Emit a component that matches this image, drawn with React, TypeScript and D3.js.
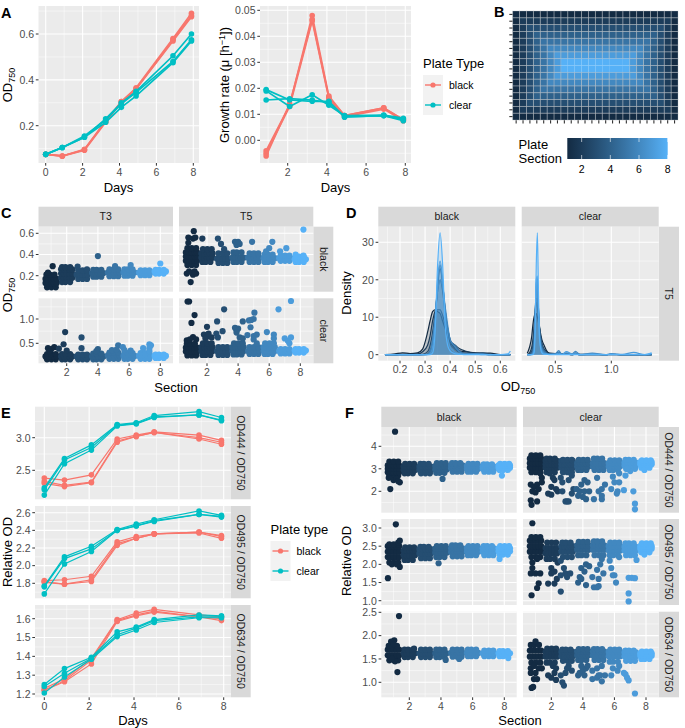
import React from 'react';
import * as d3 from 'd3';

const BLACK = '#F8766D';
const CLEAR = '#00BFC4';
const FONT = '"Liberation Sans", Arial, sans-serif';

const sectionColor = d3.scaleLinear<string>()
    .domain([1, 8])
    .range(['#132B43', '#56B1F7'])
    .interpolate(d3.interpolateLab);

// Panel A
const days = [0, 0.9, 2.1, 3.25, 4.1, 4.9, 6.9, 7.9];
const rateDays = [0.9, 2.1, 3.25, 4.1, 4.9, 6.9, 7.9];
const odBlack = [
    [0.075, 0.068, 0.095, 0.22, 0.305, 0.365, 0.58, 0.69],
    [0.075, 0.068, 0.097, 0.22, 0.30, 0.36, 0.575, 0.68],
    [0.075, 0.067, 0.093, 0.215, 0.305, 0.36, 0.57, 0.675],
];
const odClear = [
    [0.075, 0.105, 0.15, 0.23, 0.30, 0.35, 0.505, 0.60],
    [0.075, 0.105, 0.155, 0.225, 0.295, 0.345, 0.48, 0.575],
    [0.075, 0.105, 0.15, 0.215, 0.28, 0.33, 0.475, 0.57],
];
const rateBlack = [
    [-0.004, 0.0135, 0.048, 0.017, 0.0095, 0.0125, 0.008],
    [-0.005, 0.013, 0.046, 0.016, 0.009, 0.012, 0.0075],
    [-0.006, 0.014, 0.0465, 0.0165, 0.0095, 0.0125, 0.0078],
];
const rateClear = [
    [0.0155, 0.016, 0.0155, 0.0145, 0.009, 0.0095, 0.008],
    [0.019, 0.013, 0.0175, 0.0135, 0.0095, 0.0097, 0.0085],
    [0.0195, 0.0155, 0.015, 0.015, 0.009, 0.0095, 0.0075],
];

// Panel B, section of every well
const plateRows = [
    '111111111111111111111111',
    '122222222222222222222221',
    '123333333333333333333321',
    '123444444444444444444321',
    '123455555555555555554321',
    '123456666666666666654321',
    '123456777777777777654321',
    '123456788888888887654321',
    '123456788888888887654321',
    '123456777777777777654321',
    '123456666666666666654321',
    '123455555555555555554321',
    '123444444444444444444321',
    '123333333333333333333321',
    '122222222222222222222221',
    '111111111111111111111111',
];

// Panels C and F: y values of the dense part for sections 1 to 8, and the stray points as [x, y]
const swarmOffsets = [-0.36, -0.18, 0, 0.18, 0.36];
const swarmEdgeOffsets = [
    [-0.26, 0.02, 0.3],
    [-0.3, -0.08, 0.22],
];

const cT3BlackBands = [
    [0.09, 0.13, 0.17, 0.21], [0.14, 0.18, 0.22, 0.26, 0.28], [0.17, 0.21, 0.25], [0.19, 0.225, 0.255],
    [0.195, 0.23, 0.26], [0.2, 0.23, 0.26], [0.205, 0.23, 0.25], [0.22, 0.24, 0.255],
];
const cT3BlackStray = [[1.1, 0.29], [4, 0.385], [6.1, 0.3], [5.1, 0.29], [8, 0.315], [2.7, 0.285], [0.8, 0.23], [3.3, 0.26]];
const cT5BlackBands = [
    [0.3, 0.34, 0.38, 0.42, 0.46], [0.33, 0.37, 0.41, 0.45], [0.32, 0.36, 0.41], [0.33, 0.37, 0.42],
    [0.33, 0.37, 0.41], [0.33, 0.365, 0.4], [0.34, 0.365, 0.39], [0.33, 0.355, 0.38],
];
const cT5BlackStray = [
    [0.8, 0.56], [0.8, 0.51], [1.15, 0.62], [1.1, 0.55], [1.25, 0.56], [1.7, 0.55], [0.7, 0.22], [1.1, 0.21],
    [1.3, 0.22], [0.95, 0.14], [1.2, 0.24], [0.85, 0.24], [2.7, 0.55], [2.9, 0.5], [3.1, 0.45], [3.8, 0.52],
    [4, 0.52], [3.9, 0.49], [4.1, 0.5], [4.9, 0.52], [6.2, 0.52], [5.8, 0.43], [6, 0.46], [7.1, 0.46],
    [6.7, 0.43], [8.2, 0.635], [7.7, 0.4], [8.2, 0.39],
];
const cT3ClearBands = [
    [0.17, 0.23, 0.28], [0.17, 0.23, 0.28], [0.17, 0.23, 0.27], [0.17, 0.23, 0.29],
    [0.18, 0.25, 0.31], [0.18, 0.24, 0.3], [0.18, 0.24, 0.3], [0.2, 0.24, 0.27],
];
const cT3ClearStray = [
    [0.8, 0.4], [1.2, 0.42], [1.5, 0.39], [1, 0.38], [1.9, 0.73], [1.8, 0.48], [2.95, 0.62], [2.95, 0.4],
    [2, 0.35], [0.9, 0.33], [4, 0.38], [3.9, 0.34], [5.3, 0.46], [5.6, 0.42], [4.9, 0.36], [5.2, 0.37],
    [6.1, 0.35], [5.7, 0.36], [7.3, 0.48], [7.4, 0.46], [6.9, 0.4], [7.3, 0.4], [7.3, 0.34],
];
const cT5ClearBands = [
    [0.25, 0.33, 0.41, 0.49], [0.26, 0.34, 0.42, 0.5], [0.26, 0.34, 0.42], [0.27, 0.34, 0.42, 0.5],
    [0.28, 0.34, 0.42], [0.28, 0.34, 0.42, 0.5], [0.29, 0.34, 0.38], [0.31, 0.35, 0.38],
];
const cT5ClearStray = [
    [0.75, 1.36], [0.85, 1.36], [1.2, 1.08], [1, 0.92], [0.7, 0.56], [1.1, 0.63], [0.9, 0.58], [1.3, 0.58],
    [2, 0.84], [1.8, 0.68], [2, 0.64], [2.3, 0.62], [1.9, 0.6], [2.1, 0.7], [3.1, 1.2], [2.65, 0.95],
    [3, 0.75], [2.7, 0.62], [2.6, 0.7], [3.8, 0.82], [4, 0.8], [3.9, 0.77], [3.9, 0.72], [4.3, 0.95],
    [4.1, 0.62], [4.3, 0.6], [5.05, 1.13], [5, 1], [4.85, 0.98], [4.7, 0.97], [4.8, 0.83], [4.6, 0.67],
    [5, 0.65], [5.2, 0.68], [5, 0.58], [5.2, 0.5], [5.85, 0.73], [6.3, 0.68], [6.3, 0.6], [6.6, 1.2],
    [7.4, 1.37], [7, 0.6], [7.2, 0.55], [7.4, 0.62], [7.3, 0.5],
];

const f444BlackBands = [
    [2.7, 2.85, 3, 3.15, 3.32], [2.8, 2.95, 3.1, 3.22], [2.8, 2.95, 3.1, 3.22], [2.82, 2.97, 3.12, 3.25],
    [2.87, 3.02, 3.15, 3.25], [2.87, 3, 3.12, 3.22], [2.87, 3, 3.1, 3.2], [2.95, 3.05, 3.15, 3.22],
];
const f444BlackStray = [
    [1.1, 4.65], [0.8, 2.1], [1.4, 2.4], [0.7, 2.6], [1, 2.5], [1.2, 2.55], [1.3, 2.45], [4.1, 2.55], [7.85, 2.7],
];
const f444ClearBands = [
    [2.85, 3.05, 3.25, 3.45, 3.6], [2.85, 3.05, 3.2, 3.35, 3.45], [2.85, 3.05, 3.2, 3.35, 3.4], [2.95, 3.1, 3.25, 3.4],
    [2.95, 3.1, 3.25, 3.45], [2.95, 3.1, 3.25, 3.38], [3, 3.15, 3.28, 3.4], [3.05, 3.2, 3.3, 3.38],
];
const f444ClearStray = [
    [0.7, 2.3], [0.9, 2.2], [1.1, 2.3], [0.8, 2], [1, 1.95], [1.2, 2.1], [0.7, 1.6], [0.75, 1.4], [1.1, 1.55],
    [1.4, 2.6], [1.3, 2.8], [1.4, 2.4], [1.9, 2.8], [2.1, 2.6], [2.2, 2.5], [2, 2.2], [2.3, 2.1], [1.8, 1.9],
    [2, 1.85], [2.4, 2], [2.7, 2], [2.6, 2.6], [2.7, 2.4], [3, 1.55], [2.9, 1.55], [3.1, 1.55], [3.3, 2.7],
    [3.1, 2.5], [3.4, 2.1], [3.7, 1.8], [3.3, 1.9], [3.6, 2.1], [3.9, 2.3], [4.1, 2.5], [4.3, 2.4], [3.8, 2],
    [4.1, 2], [4.2, 1.65], [4.4, 2], [4, 1.75], [4.7, 1.65], [5.2, 1.65], [5.2, 2.1], [5, 2], [5.4, 2.3],
    [5.2, 1.8], [4.9, 2.6], [5.9, 2.65], [6.3, 2.4], [6, 2.4], [5.8, 2.1], [6.2, 2], [6.6, 2.05], [6.15, 1.9],
    [6.7, 2.7], [6.3, 2.8], [7.2, 2], [7.3, 1.45], [7.3, 1.2], [7, 2.9], [6.8, 3], [7.9, 2.95],
];
const f495BlackBands = [
    [2.05, 2.2, 2.35, 2.5, 2.55], [2.12, 2.25, 2.38, 2.47], [2.17, 2.3, 2.42, 2.48], [2.2, 2.32, 2.43, 2.5],
    [2.22, 2.34, 2.44, 2.52], [2.25, 2.35, 2.45, 2.5], [2.25, 2.35, 2.44, 2.5], [2.27, 2.36, 2.44, 2.5],
];
const f495BlackStray = [
    [1.15, 3.1], [0.65, 1.62], [1.3, 2.6], [1.4, 2.65], [0.9, 2], [1.2, 2], [1.4, 1.93], [3.85, 2.03], [7.7, 2.15],
];
const f495ClearBands = [
    [2.2, 2.35, 2.5, 2.65, 2.75], [2.15, 2.3, 2.45, 2.6], [2.2, 2.35, 2.5, 2.6], [2.25, 2.4, 2.52, 2.62],
    [2.25, 2.4, 2.52, 2.63], [2.25, 2.38, 2.5, 2.6], [2.25, 2.38, 2.48, 2.58], [2.33, 2.43, 2.5, 2.58],
];
const f495ClearStray = [
    [0.8, 3.13], [0.75, 1.15], [1.1, 1.35], [1.2, 1.48], [0.7, 1.75], [1, 1.75], [1.3, 1.75], [0.8, 1.9],
    [1.1, 2.15], [0.8, 2.05], [1.8, 1.47], [2.2, 1.47], [2, 1.9], [2.2, 1.8], [2, 1.75], [2.35, 1.6],
    [2.6, 1.25], [2.6, 1.7], [2.4, 2.05], [2.6, 2.1], [3, 1.65], [2.9, 1.75], [3.2, 1.75], [2.8, 1.9],
    [3.7, 1.5], [3.8, 1.65], [3.9, 1.9], [4.1, 1.8], [4.2, 2], [3.9, 1.6], [4.4, 1.95], [4.2, 1.43],
    [4.6, 1.65], [4.7, 1.37], [4.9, 1.37], [5, 1.6], [4.9, 1.85], [5.3, 1.75], [5.1, 2], [5.2, 2.15], [5, 1.4],
    [5.7, 2.1], [5.8, 1.9], [5.9, 1.7], [6.1, 1.5], [6, 1.7], [6.3, 2.2], [6.9, 1.63], [7.1, 1.63],
    [7.3, 1.62], [6.9, 1.2], [6.9, 0.98], [7.4, 2.12], [7.9, 2.27],
];
const f634BlackBands = [
    [1.47, 1.58, 1.7, 1.78], [1.54, 1.62, 1.7], [1.54, 1.62, 1.7], [1.54, 1.62, 1.7],
    [1.55, 1.63, 1.7], [1.56, 1.63, 1.7], [1.56, 1.62, 1.68], [1.56, 1.62, 1.67],
];
const f634BlackStray = [
    [1.35, 2.42], [1.05, 1.9], [0.85, 1.87], [1, 1.82], [1.25, 1.22], [1.1, 1.45], [0.9, 1.5], [2.3, 1.72],
    [4.3, 1.48], [5.15, 1.5], [8.25, 1.52],
];
const f634ClearBands = [
    [1.42, 1.55, 1.68, 1.8], [1.42, 1.55, 1.65, 1.72], [1.46, 1.56, 1.65, 1.7], [1.48, 1.58, 1.66, 1.71],
    [1.48, 1.58, 1.66, 1.71], [1.44, 1.56, 1.65, 1.7], [1.46, 1.56, 1.64, 1.68], [1.5, 1.57, 1.62, 1.66],
];
const f634ClearStray = [
    [1, 1.88], [0.75, 0.88], [0.85, 0.9], [0.9, 1.07], [1.1, 1.07], [0.7, 1.3], [1, 1.2], [1.2, 1.3], [1.4, 1.3],
    [0.7, 1.2], [0.9, 1.35], [2.1, 1.35], [2.2, 1.2], [2, 1.1], [1.8, 1.15], [2.3, 1.05], [2.6, 1.15],
    [2.8, 0.93], [2.7, 1], [2.3, 1.3], [2.9, 1.2], [3.1, 1.35], [3.3, 1.25], [3, 1.3], [3.7, 1.15], [3.8, 1.2],
    [4, 1.25], [4.2, 1.3], [4.1, 1.15], [4.3, 1.35], [4.6, 1.25], [3.9, 1.35], [4.6, 1.07], [4.9, 1.1],
    [5.2, 1.02], [5.1, 1.15], [5.4, 1.15], [5, 1.15], [5.2, 1.35], [4.9, 1.3], [5.8, 1.15], [6.3, 1.35],
    [5.9, 1.3], [6.2, 1.25], [6.7, 1.17], [6.9, 1.04], [6.6, 1.2], [7.3, 0.76], [6.8, 1.1],
];

// Panel D, density per section on a hand picked grid of OD values
const densBlackX = [0.14, 0.18, 0.21, 0.24, 0.27, 0.29, 0.31, 0.32, 0.33, 0.34, 0.35, 0.36, 0.37, 0.38, 0.39, 0.40, 0.41, 0.42, 0.44, 0.46, 0.50, 0.53, 0.56, 0.60, 0.63, 0.64];
const densBlack = [
    [0, 0.2, 0.5, 0.3, 0.5, 1.5, 6, 9, 11.5, 12, 11.5, 11, 9, 7, 5, 3.5, 2.5, 2, 1, 0.8, 0.5, 0.4, 0.4, 0, 0, 0],
    [0, 0, 0.1, 0.1, 0.2, 0.8, 2.5, 5, 9, 11.5, 12, 12, 10.5, 8, 5, 3.5, 3, 2.5, 1.5, 1, 0.4, 0.3, 0.1, 0, 0, 0],
    [0, 0, 0, 0, 0, 0.1, 0.8, 2.5, 6, 11, 17, 20, 17, 11, 7, 4, 2.5, 1.5, 0.6, 0.4, 0.3, 0.5, 0.1, 0, 0, 0],
    [0, 0, 0, 0, 0, 0, 0.2, 1, 3.5, 9, 18, 23, 19, 12, 6, 3, 2, 1.5, 0.8, 0.3, 0.2, 0.2, 0, 0, 0, 0],
    [0, 0, 0, 0, 0, 0, 0.1, 0.6, 3, 9, 19, 24, 19, 12, 7, 4, 3, 2.5, 0.8, 0.2, 0.2, 0.1, 0, 0, 0, 0],
    [0, 0, 0, 0, 0, 0, 0.1, 0.8, 4, 10, 17, 20, 18, 13, 8, 4, 2.8, 2, 0.6, 0.2, 0.3, 0.2, 0, 0, 0, 0],
    [0, 0, 0, 0, 0, 0, 0, 0.3, 2, 8, 20, 25, 20, 11, 5, 2, 1.2, 0.6, 0.2, 0.1, 0.1, 0, 0, 0, 0, 0],
    [0, 0, 0, 0, 0, 0, 0, 0, 0.5, 6, 24, 32.5, 24, 8, 2.5, 1, 0.5, 0.2, 0.1, 0, 0, 0, 0, 0, 0.2, 1],
];
const densClearX = [0.25, 0.27, 0.29, 0.30, 0.31, 0.32, 0.33, 0.34, 0.35, 0.36, 0.38, 0.40, 0.42, 0.45, 0.50, 0.53, 0.56, 0.60, 0.65, 0.68, 0.72, 0.83, 0.95, 1.0, 1.1, 1.2, 1.3, 1.36];
const densClear = [
    [0.4, 2, 5, 8, 10, 11, 11, 10, 8.5, 7, 4, 2.5, 1.2, 0.4, 0.3, 0.6, 0.2, 0.3, 0.1, 0.3, 0.1, 0.1, 0, 0.1, 0, 0, 0, 0],
    [0, 0.5, 2, 4, 7, 11, 14, 13, 10, 7, 3, 1.5, 0.8, 0.2, 0.2, 0.4, 0.1, 0.2, 0, 0.1, 0, 0, 0, 0, 0, 0, 0, 0],
    [0, 0.2, 1, 2.5, 6, 11, 15, 15, 11, 7, 3, 1.2, 0.5, 0.2, 0.1, 0.2, 0.1, 0.1, 0, 0.2, 0, 0, 0, 0.1, 0, 0, 0, 0],
    [0, 0, 0.5, 1.5, 4, 11, 17, 18, 12, 7, 2.5, 1.2, 0.5, 0.1, 0.1, 0.2, 0.1, 0.3, 0, 0.1, 0, 0.1, 0, 0, 0, 0, 0, 0],
    [0, 0, 0.2, 1, 3, 10, 18, 19, 12, 6, 2, 1, 0.4, 0.1, 0.2, 0.6, 0.1, 0.2, 0.1, 0.5, 0, 0, 0, 0.2, 0, 0, 0, 0],
    [0, 0, 0.1, 0.5, 2, 9, 19, 20, 12, 5, 1.5, 0.6, 0.3, 0.1, 0.2, 1.1, 0.1, 0.5, 0.2, 0.9, 0.1, 0.4, 0, 0.1, 0, 0, 0, 0],
    [0, 0, 0, 0.2, 1, 8, 20, 21, 11, 4, 1, 0.3, 0.2, 0.1, 0.1, 0.4, 0.1, 0.8, 0.2, 0.3, 0, 0.2, 0, 0.2, 0.1, 0.6, 0, 0.4],
    [0, 0, 0, 0, 0.5, 6, 24, 32.5, 16, 4, 0.5, 0.1, 0.1, 0, 0, 0, 0, 0, 0, 0, 0, 0, 0, 0, 0, 0, 0, 0.5],
];

// Panel E
const od444Black = [
    [2.38, 2.35, 2.43, 2.98, 3.04, 3.09, 3.04, 2.96],
    [2.33, 2.27, 2.32, 2.95, 3.02, 3.08, 3.0, 2.93],
    [2.3, 2.25, 2.31, 2.93, 3.02, 3.08, 2.98, 2.9],
];
const od444Clear = [
    [2.23, 2.68, 2.89, 3.2, 3.23, 3.34, 3.4, 3.31],
    [2.2, 2.66, 2.85, 3.19, 3.22, 3.32, 3.35, 3.27],
    [2.12, 2.6, 2.81, 3.18, 3.21, 3.31, 3.35, 3.26],
];
const od495Black = [
    [1.83, 1.84, 1.88, 2.27, 2.33, 2.36, 2.38, 2.34],
    [1.82, 1.79, 1.84, 2.25, 2.31, 2.36, 2.38, 2.33],
    [1.81, 1.79, 1.82, 2.23, 2.31, 2.36, 2.37, 2.31],
];
const od495Clear = [
    [1.77, 2.1, 2.22, 2.41, 2.47, 2.52, 2.62, 2.57],
    [1.76, 2.08, 2.19, 2.4, 2.45, 2.51, 2.58, 2.56],
    [1.68, 2.02, 2.16, 2.4, 2.45, 2.5, 2.58, 2.55],
];
const od634Black = [
    [1.23, 1.28, 1.39, 1.595, 1.63, 1.65, 1.62, 1.61],
    [1.22, 1.27, 1.38, 1.59, 1.62, 1.64, 1.61, 1.6],
    [1.22, 1.265, 1.36, 1.585, 1.615, 1.635, 1.61, 1.59],
];
const od634Clear = [
    [1.25, 1.335, 1.395, 1.53, 1.555, 1.595, 1.62, 1.615],
    [1.24, 1.31, 1.39, 1.515, 1.55, 1.59, 1.61, 1.61],
    [1.205, 1.29, 1.385, 1.505, 1.54, 1.58, 1.605, 1.605],
];

const evens = [0, 2, 4, 6, 8];
const odds = [1, 3, 5, 7];
const sectionTicks = [2, 4, 6, 8];
const sectionMinor = [1, 3, 5, 7];

type Scale = d3.ScaleLinear<number, number>;

function Panel(props: {
    sx: Scale, sy: Scale, xMajor: number[], xMinor: number[], yMajor: number[], yMinor: number[],
    box: number[], showX?: boolean, showY?: boolean, fmtY?: (v: number) => string, fmtX?: (v: number) => string,
    children?: React.ReactNode,
}) {
    const { sx, sy, xMajor, xMinor, yMajor, yMinor, box, showX, showY, children } = props;
    const [x0, x1, y0, y1] = box;
    const fmtY = props.fmtY || d3.format('.1f');
    const fmtX = props.fmtX || (v => String(v));
    return (
        <g>
            <rect x={x0} y={y0} width={x1 - x0} height={y1 - y0} fill="#ebebeb" />
            {xMinor.map(v => <line key={'a' + v} x1={sx(v)} x2={sx(v)} y1={y0} y2={y1} stroke="#fff" strokeWidth={0.5} />)}
            {yMinor.map(v => <line key={'b' + v} x1={x0} x2={x1} y1={sy(v)} y2={sy(v)} stroke="#fff" strokeWidth={0.5} />)}
            {xMajor.map(v => <line key={'c' + v} x1={sx(v)} x2={sx(v)} y1={y0} y2={y1} stroke="#fff" strokeWidth={1.1} />)}
            {yMajor.map(v => <line key={'d' + v} x1={x0} x2={x1} y1={sy(v)} y2={sy(v)} stroke="#fff" strokeWidth={1.1} />)}
            {children}
            {showX && xMajor.map(v => (
                <g key={'e' + v}>
                    <line x1={sx(v)} x2={sx(v)} y1={y1} y2={y1 + 2.7} stroke="#333" strokeWidth={1} />
                    <text x={sx(v)} y={y1 + 12.5} textAnchor="middle" fontSize={10.5} fill="#4d4d4d">{fmtX(v)}</text>
                </g>
            ))}
            {showY && yMajor.map(v => (
                <g key={'f' + v}>
                    <line x1={x0 - 2.7} x2={x0} y1={sy(v)} y2={sy(v)} stroke="#333" strokeWidth={1} />
                    <text x={x0 - 4.5} y={sy(v) + 3.8} textAnchor="end" fontSize={10.5} fill="#4d4d4d">{fmtY(v)}</text>
                </g>
            ))}
        </g>
    );
}

function Replicates(props: { xs: number[], rows: number[][], color: string, sx: Scale, sy: Scale, lw: number, r: number }) {
    const { xs, rows, color, sx, sy, lw, r } = props;
    const line = d3.line<number>().x((_, i) => sx(xs[i])).y(d => sy(d));
    return (
        <g>
            {rows.map((row, i) => (
                <g key={i}>
                    <path d={line(row) || ''} fill="none" stroke={color} strokeWidth={lw} />
                    {row.map((d, j) => <circle key={j} cx={sx(xs[j])} cy={sy(d)} r={r} fill={color} />)}
                </g>
            ))}
        </g>
    );
}

function Swarm(props: { bands: number[][], stray: number[][], sx: Scale, sy: Scale, r: number }) {
    const { bands, stray, sx, sy, r } = props;
    const pts: { x: number, y: number, s: number }[] = [];
    bands.forEach((ys, i) => {
        const s = i + 1;
        ys.forEach((y, k) => {
            // the outer rows are thinner so the blob gets a rounded, lumpy outline
            const edge = k === 0 || k === ys.length - 1;
            const offsets = edge ? swarmEdgeOffsets[(i + k) % 2] : swarmOffsets;
            offsets.forEach(o => pts.push({ x: s + o, y, s }));
        });
    });
    stray.forEach(([x, y]) => pts.push({ x, y, s: Math.max(1, Math.min(8, Math.round(x))) }));
    pts.sort((a, b) => a.s - b.s);
    return (
        <g>
            {pts.map((p, i) => <circle key={i} cx={sx(p.x)} cy={sy(p.y)} r={r} fill={sectionColor(p.s)} />)}
        </g>
    );
}

function Density(props: { xs: number[], rows: number[][], sx: Scale, sy: Scale }) {
    const { xs, rows, sx, sy } = props;
    const area = d3.area<number>().x((_, i) => sx(xs[i])).y0(sy(0)).y1(d => sy(d)).curve(d3.curveMonotoneX);
    const line = d3.line<number>().x((_, i) => sx(xs[i])).y(d => sy(d)).curve(d3.curveMonotoneX);
    return (
        <g>
            {rows.map((row, i) => (
                <g key={i}>
                    <path d={area(row) || ''} fill={sectionColor(i + 1)} fillOpacity={0.2} />
                    <path d={line(row) || ''} fill="none" stroke={sectionColor(i + 1)} strokeWidth={1.2} />
                </g>
            ))}
        </g>
    );
}

function StripTop(props: { x0: number, x1: number, y0: number, y1: number, label: string }) {
    const { x0, x1, y0, y1, label } = props;
    return (
        <g>
            <rect x={x0} y={y0} width={x1 - x0} height={y1 - y0} fill="#d9d9d9" />
            <text x={(x0 + x1) / 2} y={(y0 + y1) / 2 + 3.7} textAnchor="middle" fontSize={10.5} fill="#1a1a1a">{label}</text>
        </g>
    );
}

function StripRight(props: { x0: number, x1: number, y0: number, y1: number, label: string }) {
    const { x0, x1, y0, y1, label } = props;
    const cx = (x0 + x1) / 2;
    const cy = (y0 + y1) / 2;
    return (
        <g>
            <rect x={x0} y={y0} width={x1 - x0} height={y1 - y0} fill="#d9d9d9" />
            <text transform={`translate(${cx - 3.7},${cy}) rotate(90)`} textAnchor="middle" fontSize={10.5} fill="#1a1a1a">{label}</text>
        </g>
    );
}

function Legend(props: { x: number, titleY: number, keyY: number, title: string }) {
    const { x, titleY, keyY, title } = props;
    const keys = [['black', BLACK], ['clear', CLEAR]];
    return (
        <g>
            <text x={x} y={titleY} fontSize={13} fill="#000">{title}</text>
            {keys.map(([name, color], i) => (
                <g key={name} transform={`translate(${x},${keyY + i * 20})`}>
                    <rect width={20} height={20} fill="#f2f2f2" />
                    <line x1={2} x2={18} y1={10} y2={10} stroke={color} strokeWidth={1.4} />
                    <circle cx={10} cy={10} r={2.6} fill={color} />
                    <text x={26} y={14} fontSize={10.5} fill="#000">{name}</text>
                </g>
            ))}
        </g>
    );
}

function Title(props: { x: number, y: number, rotate?: boolean, children: React.ReactNode }) {
    const { x, y, rotate, children } = props;
    return (
        <text transform={`translate(${x},${y})${rotate ? ' rotate(-90)' : ''}`} textAnchor="middle" fontSize={13} fill="#000">
            {children}
        </text>
    );
}

function Od750() {
    return (
        <>
            OD<tspan fontSize={9} dy={2.5}>750</tspan>
        </>
    );
}

const linear = (d: number[], r: number[]) => d3.scaleLinear().domain(d).range(r);

function PlateHeatmap() {
    const cols = d3.range(plateRows[0].length);
    const rows = d3.range(plateRows.length);
    const bx = d3.scaleBand<number>().domain(cols).range([512.7, 678]);
    const by = d3.scaleBand<number>().domain(rows).range([11, 120]);
    const bar = linear([1, 8], [567.3, 667.7]);
    return (
        <g>
            <defs>
                <linearGradient id="sectionBar">
                    {d3.range(1, 9).map(s => <stop key={s} offset={(s - 1) / 7} stopColor={sectionColor(s)} />)}
                </linearGradient>
            </defs>
            {rows.map(r => cols.map(c => (
                <rect key={r + '-' + c} x={bx(c)} y={by(r)} width={bx.bandwidth()} height={by.bandwidth()}
                    fill={sectionColor(+plateRows[r][c])} />
            )))}
            {/* grid over the tiles, which is not visible against the lightest section */}
            {rows.map(r => cols.map(c => (
                <rect key={r + '/' + c} x={bx(c)} y={by(r)} width={bx.bandwidth()} height={by.bandwidth()}
                    fill="none" stroke="#b8bec4" strokeOpacity={plateRows[r][c] === '8' ? 0 : 0.4} strokeWidth={0.8} />
            )))}
            {rows.map(r => <line key={r} x1={509.3} x2={512.5} y1={(by(r) || 0) + by.bandwidth() / 2} y2={(by(r) || 0) + by.bandwidth() / 2} stroke="#333" strokeWidth={1.1} />)}
            {cols.map(c => <line key={c} y1={120.3} y2={123.5} x1={(bx(c) || 0) + bx.bandwidth() / 2} x2={(bx(c) || 0) + bx.bandwidth() / 2} stroke="#333" strokeWidth={1.1} />)}
            <rect x={567.3} y={138} width={100.4} height={21} fill="url(#sectionBar)" />
            {sectionTicks.map(v => (
                <g key={v}>
                    <line x1={bar(v)} x2={bar(v)} y1={155} y2={159} stroke="#fff" strokeWidth={0.6} />
                    <line x1={bar(v)} x2={bar(v)} y1={138} y2={142} stroke="#fff" strokeWidth={0.6} />
                    <text x={bar(v)} y={173} textAnchor="middle" fontSize={10.5} fill="#000">{v}</text>
                </g>
            ))}
            <text x={518.5} y={149} fontSize={13} fill="#000">Plate</text>
            <text x={518.5} y={163} fontSize={13} fill="#000">Section</text>
        </g>
    );
}

export default function App() {
    // panel A
    const ax = linear([0, 8], [45.7, 193.3]);
    const ay = linear([0.2, 0.6], [125.7, 34]);
    const gx = linear([2, 8], [287.7, 405.3]);
    const gy = linear([0, 0.05], [140.3, 10.3]);

    // panel C
    const cxL = linear([2, 8], [66.7, 160.3]);
    const cxR = linear([2, 8], [207, 300.3]);
    const cyTop = linear([0.2, 0.6], [275.7, 233.3]);
    const cyBot = linear([0.5, 1], [343.3, 319]);

    // panel D
    const dxL = linear([0.2, 0.6], [400, 500.3]);
    const dxR = linear([0.5, 1], [555.3, 611.3]);
    const dy = linear([0, 30], [354.7, 242.3]);

    // panel E
    const ex = linear([0, 8], [44.3, 223.7]);
    const ey1 = linear([2.5, 3], [470.3, 437.7]);
    const ey2 = linear([1.8, 2.6], [583.3, 512.7]);
    const ey3 = linear([1.2, 1.6], [694, 618.7]);

    // panel F
    const fxL = linear([2, 8], [409.3, 504.3]);
    const fxR = linear([2, 8], [551.3, 646]);
    const fy1 = linear([2, 4], [491.3, 446.3]);
    const fy2 = linear([1, 3], [600.7, 528]);
    const fy3 = linear([1, 2.5], [682.3, 612.3]);

    const boxC = { top: [226.7, 291.7], bot: [298.3, 363.3], l: [38.5, 173], r: [179, 313.3] };
    const boxE = { x: [35, 231], rows: [[406.7, 499.3], [506, 598.3], [605, 697.3]] };
    const boxF = { l: [381.3, 516.7], r: [523, 658.7], rows: [[427, 512.7], [519, 605], [611.7, 697.3]] };

    const f1yMaj = [2, 3, 4];
    const f1yMin = [1.5, 2.5, 3.5, 4.5];
    const fmtInt = (v: number) => String(v);

    return (
        <svg width={685} height={728} style={{ position: 'absolute', left: 0, top: 0 }} fontFamily={FONT}>
            <rect width={685} height={728} fill="#fff" />

            {/* A */}
            <Panel sx={ax} sy={ay} box={[38.5, 199, 6, 163]} xMajor={evens} xMinor={odds}
                yMajor={[0.2, 0.4, 0.6]} yMinor={[0.1, 0.3, 0.5, 0.7]} showX showY>
                <Replicates xs={days} rows={odBlack} color={BLACK} sx={ax} sy={ay} lw={1.7} r={2.8} />
                <Replicates xs={days} rows={odClear} color={CLEAR} sx={ax} sy={ay} lw={1.7} r={2.8} />
            </Panel>
            <Title x={118.5} y={192}>Days</Title>
            <Title x={12} y={85} rotate><Od750 /></Title>

            <Panel sx={gx} sy={gy} box={[260, 411, 6, 163]} xMajor={sectionTicks} xMinor={[1, 3, 5, 7]}
                yMajor={[0, 0.01, 0.02, 0.03, 0.04, 0.05]} yMinor={[-0.005, 0.005, 0.015, 0.025, 0.035, 0.045]}
                fmtY={d3.format('.2f')} showX showY>
                <Replicates xs={rateDays} rows={rateBlack} color={BLACK} sx={gx} sy={gy} lw={1.7} r={2.8} />
                <Replicates xs={rateDays} rows={rateClear} color={CLEAR} sx={gx} sy={gy} lw={1.7} r={2.8} />
            </Panel>
            <Title x={335.5} y={192}>Days</Title>
            <Title x={229} y={85} rotate>Growth rate (μ [h<tspan fontSize={9} dy={-4}>−1</tspan><tspan dy={4}>])</tspan></Title>
            <Legend x={423} titleY={68} keyY={75} title="Plate Type" />

            {/* B */}
            <PlateHeatmap />

            {/* C */}
            <StripTop x0={boxC.l[0]} x1={boxC.l[1]} y0={206.7} y1={226.7} label="T3" />
            <StripTop x0={boxC.r[0]} x1={boxC.r[1]} y0={206.7} y1={226.7} label="T5" />
            <StripRight x0={313.3} x1={333.3} y0={boxC.top[0]} y1={boxC.top[1]} label="black" />
            <StripRight x0={313.3} x1={333.3} y0={boxC.bot[0]} y1={boxC.bot[1]} label="clear" />
            <Panel sx={cxL} sy={cyTop} box={[boxC.l[0], boxC.l[1], boxC.top[0], boxC.top[1]]} xMajor={sectionTicks} xMinor={sectionMinor}
                yMajor={[0.2, 0.4, 0.6]} yMinor={[0.1, 0.3, 0.5]} showY>
                <Swarm bands={cT3BlackBands} stray={cT3BlackStray} sx={cxL} sy={cyTop} r={3.1} />
            </Panel>
            <Panel sx={cxR} sy={cyTop} box={[boxC.r[0], boxC.r[1], boxC.top[0], boxC.top[1]]} xMajor={sectionTicks} xMinor={sectionMinor}
                yMajor={[0.2, 0.4, 0.6]} yMinor={[0.1, 0.3, 0.5]}>
                <Swarm bands={cT5BlackBands} stray={cT5BlackStray} sx={cxR} sy={cyTop} r={3.1} />
            </Panel>
            <Panel sx={cxL} sy={cyBot} box={[boxC.l[0], boxC.l[1], boxC.bot[0], boxC.bot[1]]} xMajor={sectionTicks} xMinor={sectionMinor}
                yMajor={[0.5, 1]} yMinor={[0.25, 0.75, 1.25]} showX showY>
                <Swarm bands={cT3ClearBands} stray={cT3ClearStray} sx={cxL} sy={cyBot} r={3.1} />
            </Panel>
            <Panel sx={cxR} sy={cyBot} box={[boxC.r[0], boxC.r[1], boxC.bot[0], boxC.bot[1]]} xMajor={sectionTicks} xMinor={sectionMinor}
                yMajor={[0.5, 1]} yMinor={[0.25, 0.75, 1.25]} showX>
                <Swarm bands={cT5ClearBands} stray={cT5ClearStray} sx={cxR} sy={cyBot} r={3.1} />
            </Panel>
            <Title x={176} y={392}>Section</Title>
            <Title x={12} y={295} rotate><Od750 /></Title>

            {/* D */}
            <StripTop x0={378.3} x1={515.3} y0={206.7} y1={226.7} label="black" />
            <StripTop x0={521.7} x1={658.7} y0={206.7} y1={226.7} label="clear" />
            <StripRight x0={658.7} x1={679} y0={226.7} y1={360.7} label="T5" />
            <Panel sx={dxL} sy={dy} box={[378.3, 515.3, 226.7, 360.7]} xMajor={[0.2, 0.3, 0.4, 0.5, 0.6]} xMinor={[0.15, 0.25, 0.35, 0.45, 0.55]}
                yMajor={[0, 10, 20, 30]} yMinor={[5, 15, 25]} fmtY={fmtInt} fmtX={d3.format('.1f')} showX showY>
                <Density xs={densBlackX} rows={densBlack} sx={dxL} sy={dy} />
            </Panel>
            <Panel sx={dxR} sy={dy} box={[521.7, 658.7, 226.7, 360.7]} xMajor={[0.5, 1]} xMinor={[0.75, 1.25]}
                yMajor={[0, 10, 20, 30]} yMinor={[5, 15, 25]} fmtX={d3.format('.1f')} showX>
                <Density xs={densClearX} rows={densClear} sx={dxR} sy={dy} />
            </Panel>
            <Title x={518} y={391}><Od750 /></Title>
            <Title x={351} y={293} rotate>Density</Title>

            {/* E */}
            {['OD444 / OD750', 'OD495 / OD750', 'OD634 / OD750'].map((label, i) => (
                <StripRight key={label} x0={231} x1={250.7} y0={boxE.rows[i][0]} y1={boxE.rows[i][1]} label={label} />
            ))}
            <Panel sx={ex} sy={ey1} box={[35, 231, 406.7, 499.3]} xMajor={evens} xMinor={odds}
                yMajor={[2.5, 3]} yMinor={[2.25, 2.75, 3.25]} showY>
                <Replicates xs={days} rows={od444Black} color={BLACK} sx={ex} sy={ey1} lw={1.2} r={2.8} />
                <Replicates xs={days} rows={od444Clear} color={CLEAR} sx={ex} sy={ey1} lw={1.2} r={2.8} />
            </Panel>
            <Panel sx={ex} sy={ey2} box={[35, 231, 506, 598.3]} xMajor={evens} xMinor={odds}
                yMajor={[1.8, 2, 2.2, 2.4, 2.6]} yMinor={[1.7, 1.9, 2.1, 2.3, 2.5]} showY>
                <Replicates xs={days} rows={od495Black} color={BLACK} sx={ex} sy={ey2} lw={1.2} r={2.8} />
                <Replicates xs={days} rows={od495Clear} color={CLEAR} sx={ex} sy={ey2} lw={1.2} r={2.8} />
            </Panel>
            <Panel sx={ex} sy={ey3} box={[35, 231, 605, 697.3]} xMajor={evens} xMinor={odds}
                yMajor={[1.2, 1.3, 1.4, 1.5, 1.6]} yMinor={[1.25, 1.35, 1.45, 1.55, 1.65]} showX showY>
                <Replicates xs={days} rows={od634Black} color={BLACK} sx={ex} sy={ey3} lw={1.2} r={2.8} />
                <Replicates xs={days} rows={od634Clear} color={CLEAR} sx={ex} sy={ey3} lw={1.2} r={2.8} />
            </Panel>
            <Title x={133} y={725}>Days</Title>
            <Title x={12} y={552} rotate>Relative OD</Title>
            <Legend x={270.5} titleY={534} keyY={541} title="Plate type" />

            {/* F */}
            <StripTop x0={boxF.l[0]} x1={boxF.l[1]} y0={406.7} y1={427} label="black" />
            <StripTop x0={boxF.r[0]} x1={boxF.r[1]} y0={406.7} y1={427} label="clear" />
            {['OD444 / OD750', 'OD495 / OD750', 'OD634 / OD750'].map((label, i) => (
                <StripRight key={label} x0={658.7} x1={679} y0={boxF.rows[i][0]} y1={boxF.rows[i][1]} label={label} />
            ))}
            <Panel sx={fxL} sy={fy1} box={[boxF.l[0], boxF.l[1], boxF.rows[0][0], boxF.rows[0][1]]} xMajor={sectionTicks} xMinor={sectionMinor}
                yMajor={f1yMaj} yMinor={f1yMin} fmtY={fmtInt} showY>
                <Swarm bands={f444BlackBands} stray={f444BlackStray} sx={fxL} sy={fy1} r={3.1} />
            </Panel>
            <Panel sx={fxR} sy={fy1} box={[boxF.r[0], boxF.r[1], boxF.rows[0][0], boxF.rows[0][1]]} xMajor={sectionTicks} xMinor={sectionMinor}
                yMajor={f1yMaj} yMinor={f1yMin}>
                <Swarm bands={f444ClearBands} stray={f444ClearStray} sx={fxR} sy={fy1} r={3.1} />
            </Panel>
            <Panel sx={fxL} sy={fy2} box={[boxF.l[0], boxF.l[1], boxF.rows[1][0], boxF.rows[1][1]]} xMajor={sectionTicks} xMinor={sectionMinor}
                yMajor={[1, 1.5, 2, 2.5, 3]} yMinor={[1.25, 1.75, 2.25, 2.75]} showY>
                <Swarm bands={f495BlackBands} stray={f495BlackStray} sx={fxL} sy={fy2} r={3.1} />
            </Panel>
            <Panel sx={fxR} sy={fy2} box={[boxF.r[0], boxF.r[1], boxF.rows[1][0], boxF.rows[1][1]]} xMajor={sectionTicks} xMinor={sectionMinor}
                yMajor={[1, 1.5, 2, 2.5, 3]} yMinor={[1.25, 1.75, 2.25, 2.75]}>
                <Swarm bands={f495ClearBands} stray={f495ClearStray} sx={fxR} sy={fy2} r={3.1} />
            </Panel>
            <Panel sx={fxL} sy={fy3} box={[boxF.l[0], boxF.l[1], boxF.rows[2][0], boxF.rows[2][1]]} xMajor={sectionTicks} xMinor={sectionMinor}
                yMajor={[1, 1.5, 2, 2.5]} yMinor={[0.75, 1.25, 1.75, 2.25]} showX showY>
                <Swarm bands={f634BlackBands} stray={f634BlackStray} sx={fxL} sy={fy3} r={3.1} />
            </Panel>
            <Panel sx={fxR} sy={fy3} box={[boxF.r[0], boxF.r[1], boxF.rows[2][0], boxF.rows[2][1]]} xMajor={sectionTicks} xMinor={sectionMinor}
                yMajor={[1, 1.5, 2, 2.5]} yMinor={[0.75, 1.25, 1.75, 2.25]} showX>
                <Swarm bands={f634ClearBands} stray={f634ClearStray} sx={fxR} sy={fy3} r={3.1} />
            </Panel>
            <Title x={520} y={725}>Section</Title>
            <Title x={351} y={561} rotate>Relative OD</Title>

            {/* panel letters */}
            {[['A', 1, 18], ['B', 494, 17], ['C', 1, 218], ['D', 346, 218], ['E', 1, 418], ['F', 345, 418]].map(([t, x, y]) => (
                <text key={t as string} x={x as number} y={y as number} fontSize={14.5} fontWeight="bold" fill="#000">{t}</text>
            ))}
        </svg>
    );
}
